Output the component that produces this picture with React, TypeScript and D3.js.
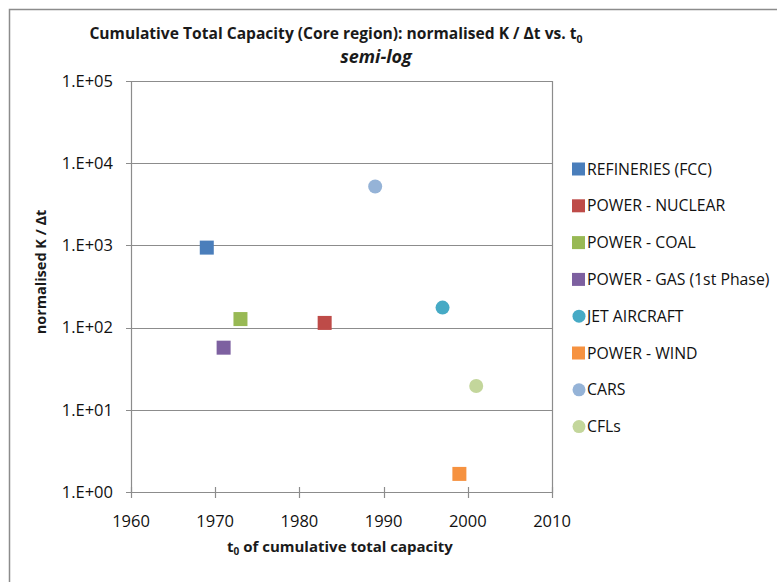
import { useEffect, useRef } from 'react';
import * as d3 from 'd3';

// series, in legend order
const seriesNames = [
  'REFINERIES (FCC)',
  'POWER - NUCLEAR',
  'POWER - COAL',
  'POWER - GAS (1st Phase)',
  'JET AIRCRAFT',
  'POWER - WIND',
  'CARS',
  'CFLs',
];
const seriesYears = [1969, 1983, 1973, 1971, 1997, 1999, 1989, 2001];
const seriesValues = [940, 114, 127, 57, 175, 1.66, 5200, 19.5];
const seriesShapes = ['square', 'square', 'square', 'square', 'circle', 'square', 'circle', 'circle'];
const seriesColors = ['#4A7EBB', '#BE4B48', '#98B954', '#7D60A0', '#46AAC5', '#F69240', '#95B3D7', '#C3D69B'];

const xTicks = [1960, 1970, 1980, 1990, 2000, 2010];
const yTicks = [1, 10, 100, 1000, 10000, 100000];

const FONT = '"Open Sans", "DejaVu Sans", sans-serif';

export default function App() {
  const ref = useRef<SVGSVGElement | null>(null);

  useEffect(() => {
    if (!ref.current) return;
    const width = 777;
    const height = 582;
    const plot = { left: 131, right: 552, top: 81, bottom: 492 };

    const svg = d3.select(ref.current);
    svg.selectAll('*').remove();
    svg.attr('width', width).attr('height', height);

    svg.append('rect').attr('width', width).attr('height', height).attr('fill', '#fff');

    // outer chart frame (runs off the picture on the right/bottom)
    svg
      .append('rect')
      .attr('x', 9.5)
      .attr('y', 9.5)
      .attr('width', 820)
      .attr('height', 620)
      .attr('fill', 'none')
      .attr('stroke', '#8c8c8c')
      .attr('stroke-width', 1.5);

    const x = d3.scaleLinear().domain([1960, 2010]).range([plot.left, plot.right]);
    const y = d3.scaleLog().domain([1, 100000]).range([plot.bottom, plot.top]);

    // gridlines
    svg
      .append('g')
      .selectAll('line')
      .data(yTicks)
      .join('line')
      .attr('x1', plot.left - 5)
      .attr('x2', plot.right)
      .attr('y1', d => Math.round(y(d)) + 0.5)
      .attr('y2', d => Math.round(y(d)) + 0.5)
      .attr('stroke', '#8c8c8c')
      .attr('stroke-width', 1.2);

    // right border + left axis
    [plot.left, plot.right].forEach(px => {
      svg
        .append('line')
        .attr('x1', px + 0.5)
        .attr('x2', px + 0.5)
        .attr('y1', plot.top)
        .attr('y2', plot.bottom + 1)
        .attr('stroke', '#8c8c8c')
        .attr('stroke-width', 1.2);
    });

    // x ticks crossing the axis
    svg
      .append('g')
      .selectAll('line')
      .data(xTicks)
      .join('line')
      .attr('x1', d => Math.round(x(d)) + 0.5)
      .attr('x2', d => Math.round(x(d)) + 0.5)
      .attr('y1', plot.bottom - 5)
      .attr('y2', plot.bottom + 6)
      .attr('stroke', '#8c8c8c')
      .attr('stroke-width', 1.2);

    svg
      .append('g')
      .selectAll('text')
      .data(xTicks)
      .join('text')
      .attr('x', d => x(d))
      .attr('y', 527)
      .attr('text-anchor', 'middle')
      .attr('font-family', FONT)
      .attr('font-size', 16.5)
      .attr('fill', '#111')
      .text(d => String(d));

    svg
      .append('g')
      .selectAll('text')
      .data(yTicks)
      .join('text')
      .attr('x', 113)
      .attr('y', d => y(d))
      .attr('dy', '0.35em')
      .attr('text-anchor', 'end')
      .attr('font-family', FONT)
      .attr('font-size', 16.5)
      .attr('fill', '#111')
      .text(d => `1.E+${String(Math.round(Math.log10(d))).padStart(2, '0')}`);

    // points
    const pts = svg.append('g');
    seriesNames.forEach((_, i) => {
      const cx = x(seriesYears[i]);
      const cy = y(seriesValues[i]);
      if (seriesShapes[i] === 'square') {
        pts
          .append('rect')
          .attr('x', cx - 7)
          .attr('y', cy - 7)
          .attr('width', 14)
          .attr('height', 14)
          .attr('fill', seriesColors[i]);
      } else {
        pts.append('circle').attr('cx', cx).attr('cy', cy).attr('r', 7).attr('fill', seriesColors[i]);
      }
    });

    // legend
    const legend = svg.append('g');
    seriesNames.forEach((name, i) => {
      const ly = 169 + i * 36.8;
      if (seriesShapes[i] === 'square') {
        legend
          .append('rect')
          .attr('x', 572)
          .attr('y', ly - 6.5)
          .attr('width', 13)
          .attr('height', 13)
          .attr('fill', seriesColors[i]);
      } else {
        legend
          .append('circle')
          .attr('cx', 579)
          .attr('cy', ly)
          .attr('r', 6.5)
          .attr('fill', seriesColors[i]);
      }
      legend
        .append('text')
        .attr('x', 587)
        .attr('y', ly)
        .attr('dy', '0.36em')
        .attr('font-family', FONT)
        .attr('font-size', 15.8)
        .attr('fill', '#111')
        .text(name);
    });

    // titles
    const title = svg
      .append('text')
      .attr('x', 336)
      .attr('y', 39)
      .attr('text-anchor', 'middle')
      .attr('font-family', FONT)
      .attr('font-size', 15.6)
      .attr('font-weight', 'bold')
      .attr('fill', '#1a1a1a');
    title.append('tspan').text('Cumulative Total Capacity (Core region): normalised K / Δt vs. t');
    title.append('tspan').attr('font-size', 10.5).attr('dy', 4).text('0');

    svg
      .append('text')
      .attr('x', 376)
      .attr('y', 63)
      .attr('text-anchor', 'middle')
      .attr('font-family', FONT)
      .attr('font-size', 18)
      .attr('font-weight', 'bold')
      .attr('font-style', 'italic')
      .attr('fill', '#1a1a1a')
      .text('semi-log');

    const xLabel = svg
      .append('text')
      .attr('x', 340)
      .attr('y', 552)
      .attr('text-anchor', 'middle')
      .attr('font-family', FONT)
      .attr('font-size', 15)
      .attr('font-weight', 'bold')
      .attr('fill', '#1a1a1a');
    xLabel.append('tspan').text('t');
    xLabel.append('tspan').attr('font-size', 10).attr('dy', 3).text('0');
    xLabel.append('tspan').attr('dy', -3).text(' of cumulative total capacity');

    svg
      .append('text')
      .attr('transform', 'translate(46,272) rotate(-90)')
      .attr('text-anchor', 'middle')
      .attr('font-family', FONT)
      .attr('font-size', 14.5)
      .attr('font-weight', 'bold')
      .attr('fill', '#1a1a1a')
      .text('normalised K / Δt');
  }, []);

  return <svg ref={ref} style={{ position: 'absolute', left: 0, top: 0, display: 'block' }} />;
}
